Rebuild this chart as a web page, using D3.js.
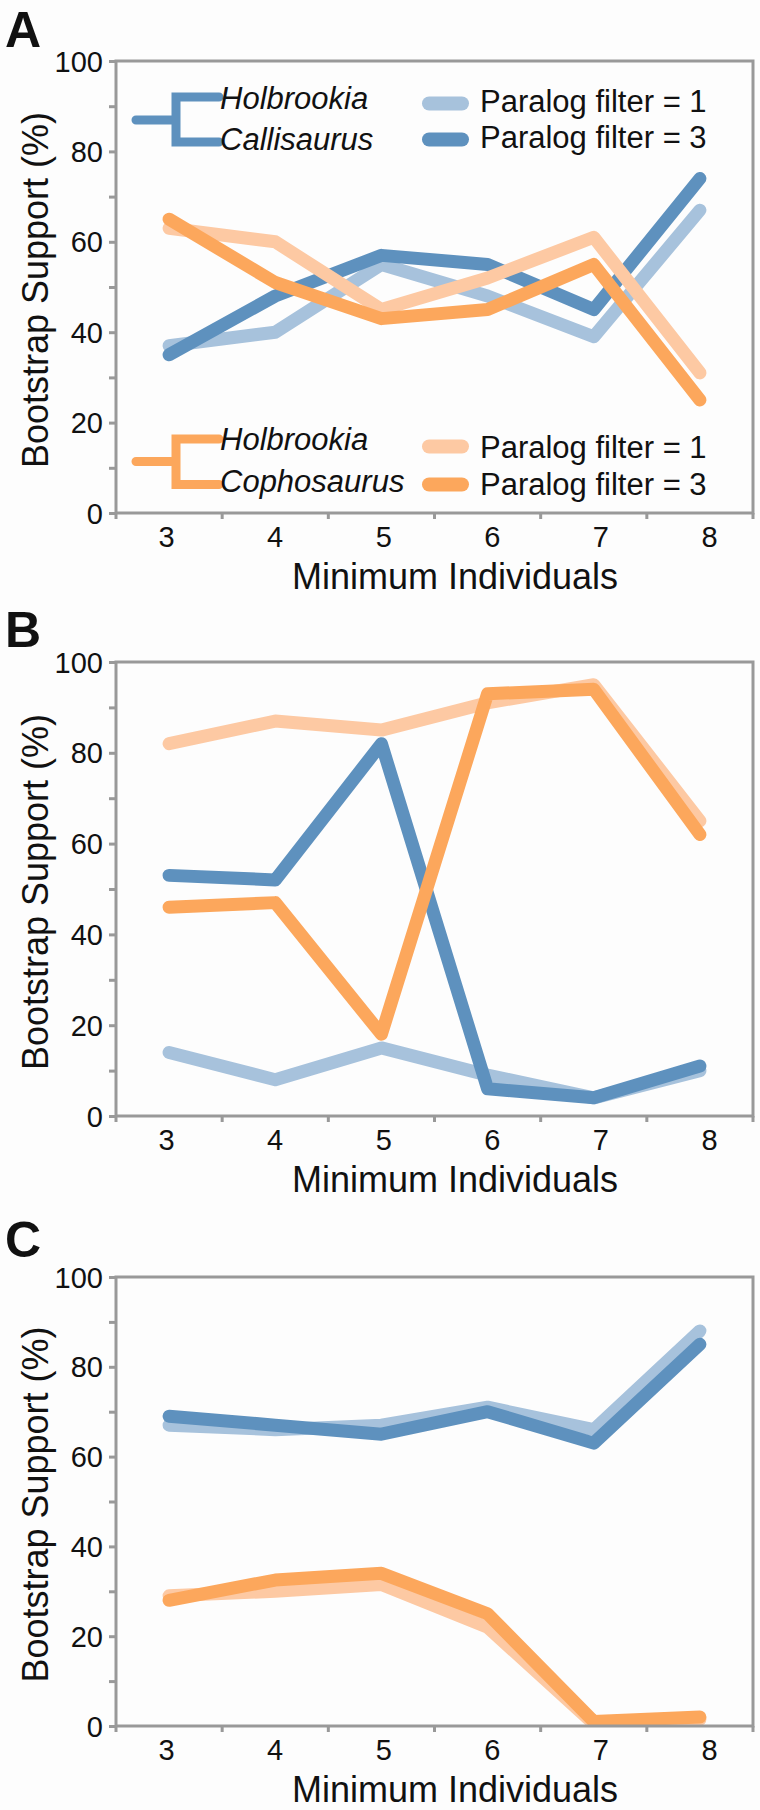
<!DOCTYPE html>
<html>
<head>
<meta charset="utf-8">
<script src="https://cdn.jsdelivr.net/npm/d3@7"></script>
<style>
  html, body { margin: 0; padding: 0; background: #fdfdfd; }
  svg { display: block; }
  text { font-family: "Liberation Sans", Arial, sans-serif; fill: #111; }
</style>
</head>
<body>
<svg id="chart" width="760" height="1810"></svg>
<script>
// ---------- data ----------
const categories = [3, 4, 5, 6, 7, 8];
const yTickValues = [0, 20, 40, 60, 80, 100];
const yMinorTickValues = [0, 10, 20, 30, 40, 50, 60, 70, 80, 90, 100];
const panelLetters = ["A", "B", "C"];
const xAxisTitle = "Minimum Individuals";
const yAxisTitle = "Bootstrap Support (%)";
const legendLabels = ["Paralog filter = 1", "Paralog filter = 3"];
const cladeBlue = ["Holbrookia", "Callisaurus"];
const cladeOrange = ["Holbrookia", "Cophosaurus"];

// Panel A
const A_bluePF1   = [37, 40, 55, 48, 39, 67];
const A_bluePF3   = [35, 48, 57, 55, 45, 74];
const A_orangePF1 = [63, 60, 45, 52, 61, 31];
const A_orangePF3 = [65, 51, 43, 45, 55, 25];
// Panel B
const B_bluePF1   = [14, 8, 15, 9, 4, 10];
const B_bluePF3   = [53, 52, 82, 6, 4, 11];
const B_orangePF1 = [82, 87, 85, 91, 95, 65];
const B_orangePF3 = [46, 47, 18, 93, 94, 62];
// Panel C
const C_bluePF1   = [67, 66, 67, 71, 66, 88];
const C_bluePF3   = [69, 67, 65, 70, 63, 85];
const C_orangePF1 = [29, 30, 31.5, 22, 0.5, 1.5];
const C_orangePF3 = [28, 32.5, 34, 25, 1, 2];

// ---------- style ----------
const colors = ["#a7c2dc", "#5e91be", "#fdc9a3", "#fca75c"];
const frameColor = "#999999";

const panelsData = [
  [A_bluePF1, A_bluePF3, A_orangePF1, A_orangePF3],
  [B_bluePF1, B_bluePF3, B_orangePF1, B_orangePF3],
  [C_bluePF1, C_bluePF3, C_orangePF1, C_orangePF3]
];
const panelLayout = [
  { top: 61, bottom: 513, letterY: 47 },
  { top: 662, bottom: 1116, letterY: 647 },
  { top: 1277, bottom: 1726, letterY: 1257 }
];
const left = 116, right = 753;

const svg = d3.select("#chart");
const defs = svg.append("defs");

const x = d3.scaleBand().domain(categories).range([left, right]).padding(0);
const xLabel = d3.scalePoint().domain(categories).range([166, 709]);

panelsData.forEach((series, pi) => {
  const L = panelLayout[pi];
  const g = svg.append("g");
  const y = d3.scaleLinear().domain([0, 100]).range([L.bottom, L.top]);

  defs.append("clipPath").attr("id", "clip" + pi)
    .append("rect")
    .attr("x", left).attr("y", L.top)
    .attr("width", right - left).attr("height", L.bottom - L.top);

  // panel letter
  g.append("text")
    .attr("x", 5).attr("y", L.letterY)
    .style("font-size", "50px").style("font-weight", "bold")
    .text(panelLetters[pi]);

  // lines
  const line = d3.line()
    .x((d, i) => x(categories[i]) + x.bandwidth() / 2)
    .y(d => y(d));
  const lg = g.append("g").attr("clip-path", `url(#clip${pi})`);
  series.forEach((vals, si) => {
    lg.append("path")
      .datum(vals)
      .attr("d", line)
      .attr("fill", "none")
      .attr("stroke", colors[si])
      .attr("stroke-width", 13)
      .attr("stroke-linecap", "round")
      .attr("stroke-linejoin", "round");
  });

  // frame
  g.append("rect")
    .attr("x", left).attr("y", L.top)
    .attr("width", right - left).attr("height", L.bottom - L.top)
    .attr("fill", "none").attr("stroke", frameColor).attr("stroke-width", 3);

  // y axis ticks (every 10) and labels
  const yAxis = d3.axisLeft(y).tickValues(yMinorTickValues).tickSize(7).tickSizeOuter(0)
    .tickFormat(d => yTickValues.includes(d) ? d : "");
  const ya = g.append("g").attr("transform", `translate(${left},0)`).call(yAxis);
  ya.select(".domain").remove();
  ya.selectAll(".tick line").attr("stroke", frameColor).attr("stroke-width", 3);
  ya.selectAll(".tick text")
    .attr("x", -13).attr("dy", "0.35em")
    .style("font-size", "29px").style("font-family", "'Liberation Sans', Arial, sans-serif")
    .attr("fill", "#111");

  // x ticks at band boundaries
  const boundaries = categories.map(c => x(c)).concat([right]);
  g.selectAll(".xtick").data(boundaries).enter().append("line")
    .attr("x1", d => d).attr("x2", d => d)
    .attr("y1", L.bottom).attr("y2", L.bottom + 6)
    .attr("stroke", frameColor).attr("stroke-width", 3);

  // x labels
  const xAxis = d3.axisBottom(xLabel).tickSize(0).tickPadding(0);
  const xa = g.append("g").attr("transform", `translate(0,${L.bottom})`).call(xAxis);
  xa.select(".domain").remove();
  xa.selectAll(".tick text")
    .attr("y", 34).attr("dy", 0)
    .style("font-size", "29px").style("font-family", "'Liberation Sans', Arial, sans-serif")
    .attr("fill", "#111");

  // axis titles
  g.append("text")
    .attr("x", 455).attr("y", L.bottom + 76)
    .attr("text-anchor", "middle")
    .style("font-size", "36px")
    .text(xAxisTitle);
  g.append("text")
    .attr("transform", `translate(48,${(L.top + L.bottom) / 2 + 3}) rotate(-90)`)
    .attr("text-anchor", "middle")
    .style("font-size", "36px")
    .text(yAxisTitle);

  // legend (panel A only)
  if (pi === 0) {
    const legends = [
      { names: cladeBlue, col: [colors[0], colors[1]], stemY: 120, topY: 97, botY: 142, t1: 109, t2: 150, s1: 103.5, s2: 139.5, l1: 111.5, l2: 148 },
      { names: cladeOrange, col: [colors[2], colors[3]], stemY: 461.5, topY: 439, botY: 484.5, t1: 450, t2: 492, s1: 446.5, s2: 484.5, l1: 458, l2: 494.5 }
    ];
    legends.forEach(lgd => {
      g.append("path")
        .attr("d", `M136,${lgd.stemY}H176M219,${lgd.topY}H176V${lgd.botY}H219`)
        .attr("fill", "none").attr("stroke", lgd.col[1]).attr("stroke-width", 9)
        .attr("stroke-linecap", "round").attr("stroke-linejoin", "miter");
      g.append("text").attr("x", 220).attr("y", lgd.t1)
        .style("font-size", "31px").style("font-style", "italic").text(lgd.names[0]);
      g.append("text").attr("x", 220).attr("y", lgd.t2)
        .style("font-size", "31px").style("font-style", "italic").text(lgd.names[1]);
      [[lgd.s1, lgd.l1, 0], [lgd.s2, lgd.l2, 1]].forEach(([sy, ly, k]) => {
        g.append("line").attr("x1", 429).attr("x2", 462).attr("y1", sy).attr("y2", sy)
          .attr("stroke", lgd.col[k]).attr("stroke-width", 14).attr("stroke-linecap", "round");
        g.append("text").attr("x", 480).attr("y", ly)
          .style("font-size", "31px").text(legendLabels[k]);
      });
    });
  }
});
</script>
</body>
</html>
